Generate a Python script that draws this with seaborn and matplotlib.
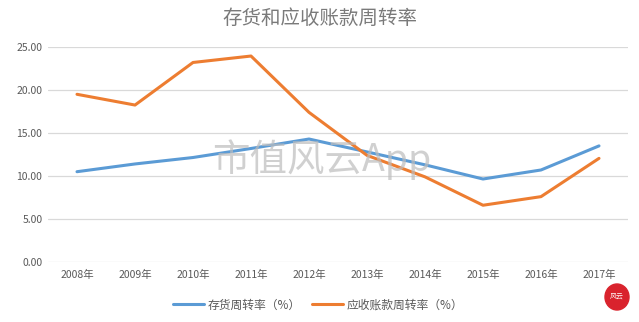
import matplotlib
matplotlib.use("Agg")
import matplotlib.pyplot as plt
import seaborn as sns
import pandas as pd
from matplotlib.patches import Ellipse

years = ["2008年", "2009年", "2010年", "2011年", "2012年",
         "2013年", "2014年", "2015年", "2016年", "2017年"]
inventory_turnover = [10.5, 11.4, 12.15, 13.2, 14.3, 12.8, 11.3, 9.65, 10.7, 13.5]
receivable_turnover = [19.5, 18.25, 23.2, 23.95, 17.4, 12.4, 9.9, 6.6, 7.6, 12.05]
series_names = ["存货周转率（%）", "应收账款周转率（%）"]
yticks = [0, 5, 10, 15, 20, 25]
title = "存货和应收账款周转率"

df = pd.DataFrame({
    "year": years * 2,
    "value": inventory_turnover + receivable_turnover,
    "series": [series_names[0]] * len(years) + [series_names[1]] * len(years),
})

sns.set_theme(style="white")
plt.rcParams["font.family"] = ["Noto Sans CJK SC", "DejaVu Sans"]

fig = plt.figure(figsize=(6.39, 3.22), dpi=100)
ax = fig.add_axes([48 / 639, 1 - 262 / 322, (628 - 48) / 639, (262 - 47) / 322])

sns.lineplot(data=df, x="year", y="value", hue="series", ax=ax,
             palette=["#5B9BD5", "#ED7D31"], linewidth=2.2, sort=False,
             legend=True)

ax.set_xlim(-0.5, len(years) - 0.5)
ax.set_ylim(0, 25)
ax.set_yticks(yticks)
ax.set_yticklabels([f"{v:.2f}" for v in yticks])
ax.grid(axis="y", color="#D9D9D9", linewidth=0.9)
ax.set_axisbelow(True)
for s in ax.spines.values():
    s.set_visible(False)
ax.tick_params(axis="both", length=0, labelsize=7.5, colors="#595959", pad=4)
ax.tick_params(axis="x", pad=6)
ax.set_xlabel("")
ax.set_ylabel("")

handles, labels = ax.get_legend_handles_labels()
ax.legend_.remove()
fig.legend(handles, labels, loc="center", bbox_to_anchor=(318 / 639, 1 - 305 / 322),
           ncol=2, frameon=False, fontsize=8.5, handlelength=2.6,
           columnspacing=1.0, handletextpad=0.3, labelcolor="#595959")

fig.text(0.5, 1 - 18 / 322, title, ha="center", va="center",
         fontsize=14, color="#7A7A7A")

# watermark
fig.text(322 / 639, 1 - 160 / 322, "市值风云App", ha="center", va="center",
         fontsize=27, color="#BDBDBD", alpha=0.7, zorder=0.5)

# logo
logo = Ellipse((617 / 639, 1 - 297 / 322), 24 / 639, 26 / 322,
               transform=fig.transFigure, color="#D9232D", zorder=5)
fig.patches.append(logo)
fig.text(617 / 639, 1 - 297 / 322, "风云", ha="center", va="center",
         fontsize=5, color="white", zorder=6)

fig.savefig("out.png", dpi=100)
